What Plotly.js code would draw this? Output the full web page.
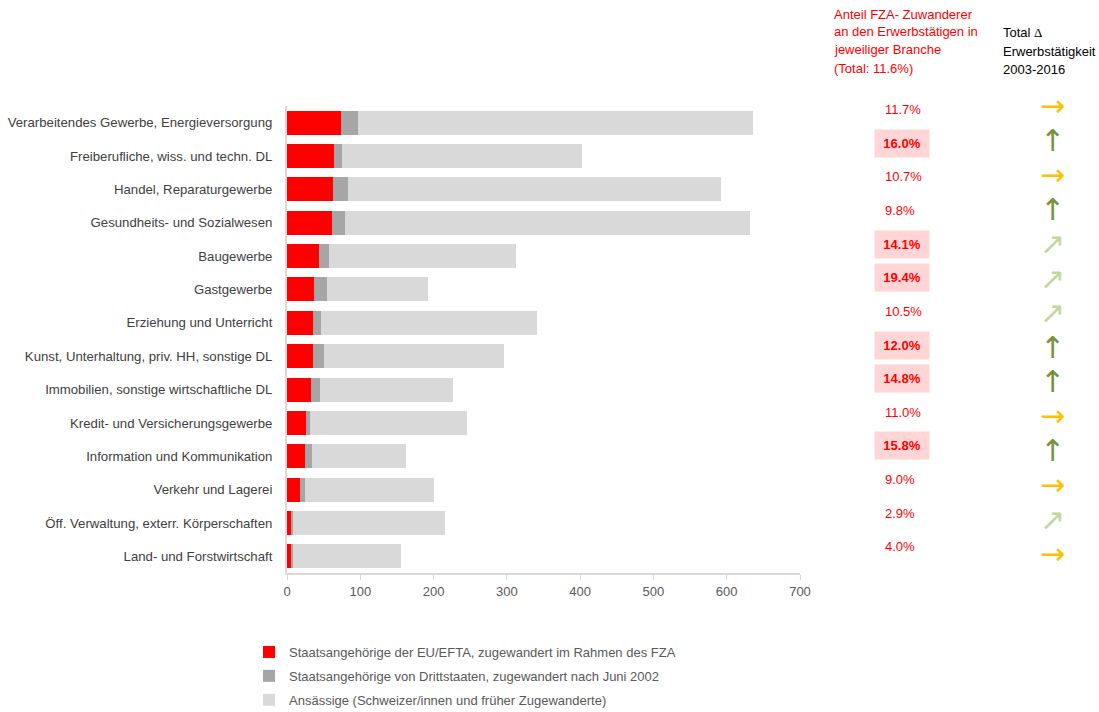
<!DOCTYPE html>
<html>
<head>
<meta charset="utf-8">
<script src="https://cdn.plot.ly/plotly-3.0.1.min.js"></script>
<style>html,body{margin:0;padding:0;background:#fff;}#chart{width:1099px;height:712px;}</style>
</head>
<body>
<div id="chart"></div>
<script>
const categories = [
  "Verarbeitendes Gewerbe, Energieversorgung",
  "Freiberufliche, wiss. und techn. DL",
  "Handel, Reparaturgewerbe",
  "Gesundheits- und Sozialwesen",
  "Baugewerbe",
  "Gastgewerbe",
  "Erziehung und Unterricht",
  "Kunst, Unterhaltung, priv. HH, sonstige DL",
  "Immobilien, sonstige wirtschaftliche DL",
  "Kredit- und Versicherungsgewerbe",
  "Information und Kommunikation",
  "Verkehr und Lagerei",
  "Öff. Verwaltung, exterr. Körperschaften",
  "Land- und Forstwirtschaft"
];
const euEfta   = [74, 64, 63, 61, 44, 37, 35, 35, 33, 26, 25, 18, 5.5, 5.5];
const dritt    = [23, 11, 20, 18, 13, 18, 12, 15, 12, 5, 9, 6, 2.5, 2];
const ansaessig= [539, 328, 509, 553, 255, 137, 294, 246, 181, 214, 128, 176, 208, 148];
const anteilFZA = ["11.7%","16.0%","10.7%","9.8%","14.1%","19.4%","10.5%","12.0%","14.8%","11.0%","15.8%","9.0%","2.9%","4.0%"];
const highlighted = [false,true,false,false,true,true,false,true,true,false,true,false,false,false];
const trend = ["right","up","right","up","diag","diag","diag","up","up","right","up","right","diag","right"];
const seriesNames = [
  "Staatsangehörige der EU/EFTA, zugewandert im Rahmen des FZA",
  "Staatsangehörige von Drittstaaten, zugewandert nach Juni 2002",
  "Ansässige (Schweizer/innen und früher Zugewanderte)"
];
const headerRed = ["Anteil FZA- Zuwanderer", "an den Erwerbstätigen in", "jeweiliger Branche", "(Total: 11.6%)"];
const headerBlack = ["Total <span style=\"font-family:'Liberation Serif', serif\">Δ</span>", "Erwerbstätigkeit", "2003-2016"];
const xTicks = [0,100,200,300,400,500,600,700];

const colors = ["#ff0000", "#a6a6a6", "#d9d9d9"];
const font = "Liberation Sans, Arial, sans-serif";

const traces = [euEfta, dritt, ansaessig].map((vals, i) => ({
  type: "bar",
  orientation: "h",
  y: categories,
  x: vals,
  name: seriesNames[i],
  legendgroup: "g" + i,
  marker: {color: colors[i]},
  width: 0.72,
  hoverinfo: "x+name"
}));

const arrowStyle = {
  right: {ch: "→", color: "#ffc000"},
  up:    {ch: "↑", color: "#76923c"},
  diag:  {ch: "↗", color: "#c3d69b"}
};

// plot area in pixels
const plotLeft = 287, plotRight = 800, plotTop = 106, plotBottom = 573;
const pyToPaper = p => (plotBottom - p) / (plotBottom - plotTop);
const pxToPaper = p => (p - plotLeft) / (plotRight - plotLeft);

const annotations = [];
categories.forEach((c, i) => {
  const hl = highlighted[i];
  const pctShift = 13 - 0.27 * i;
  if (hl) {
    annotations.push({
      xref: "paper", yref: "y", x: pxToPaper(902), y: c, xanchor: "center", yanchor: "middle",
      yshift: pctShift,
      text: "<b>" + anteilFZA[i] + "</b>",
      showarrow: false, align: "center",
      width: 52, height: 25,
      bgcolor: "#ffd5d5",
      font: {family: font, size: 13, color: "#ff0000"}
    });
  } else {
    annotations.push({
      xref: "paper", yref: "y", x: pxToPaper(883), y: c, xanchor: "left", yanchor: "middle",
      yshift: pctShift,
      text: anteilFZA[i],
      showarrow: false, align: "left",
      font: {family: font, size: 13, color: "#ff0000"}
    });
  }
  const a = arrowStyle[trend[i]];
  annotations.push({
    xref: "paper", yref: "y", x: pxToPaper(1052), y: c, xanchor: "center", yanchor: "middle",
    yshift: 17 - 1.12 * i,
    text: a.ch, showarrow: false,
    font: {family: "DejaVu Sans, sans-serif", size: 30, color: a.color}
  });
});
headerRed.forEach((t, k) => {
  annotations.push({
    xref: "paper", yref: "paper", x: pxToPaper(832), y: pyToPaper(14 + 18 * k),
    xanchor: "left", yanchor: "middle", align: "left", showarrow: false,
    text: t, font: {family: font, size: 13, color: "#ff0000"}
  });
});
headerBlack.forEach((t, k) => {
  annotations.push({
    xref: "paper", yref: "paper", x: pxToPaper(1001), y: pyToPaper(33 + 18 * k),
    xanchor: "left", yanchor: "middle", align: "left", showarrow: false,
    text: t, font: {family: font, size: 13, color: "#000000"}
  });
});

const layout = {
  width: 1099, height: 712,
  margin: {l: plotLeft, r: 1099 - plotRight, t: plotTop, b: 712 - plotBottom, autoexpand: false},
  paper_bgcolor: "#ffffff", plot_bgcolor: "#ffffff",
  barmode: "stack",
  font: {family: font, size: 13, color: "#404040"},
  xaxis: {
    range: [0, 700], tickvals: xTicks, ticktext: xTicks.map(String),
    showgrid: false, zeroline: false, automargin: false,
    showline: true, linecolor: "#d9d9d9", linewidth: 2,
    ticks: "outside", ticklen: 5, tickcolor: "#d9d9d9", tickwidth: 1,
    tickfont: {family: font, size: 13, color: "#595959"}
  },
  yaxis: {
    type: "category", autorange: false,
    range: [categories.length - 0.5, -0.5], automargin: false,
    showgrid: false, zeroline: false,
    showline: true, linecolor: "#d9d9d9", linewidth: 2,
    ticks: "outside", ticklen: 10, tickcolor: "rgba(0,0,0,0)",
    tickfont: {family: font, size: 13.2, color: "#404040"}
  },
  showlegend: true,
  legend: {
    x: pxToPaper(249), y: pyToPaper(637), xanchor: "left", yanchor: "top",
    orientation: "v", traceorder: "grouped",
    font: {family: font, size: 13, color: "#595959"},
    itemwidth: 30, tracegroupgap: 4,
    bgcolor: "rgba(0,0,0,0)"
  },
  annotations: annotations
};

Plotly.newPlot("chart", traces, layout, {displayModeBar: false, staticPlot: true});
</script>
</body>
</html>
